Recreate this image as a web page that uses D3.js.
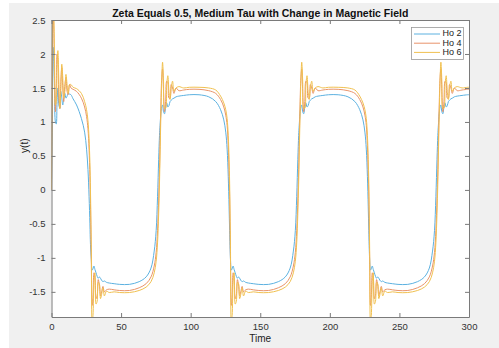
<!DOCTYPE html>
<html>
<head>
<meta charset="utf-8">
<script src="https://cdn.jsdelivr.net/npm/d3@7"></script>
<style>
  body { margin: 0; background: #ffffff; }
  svg { display: block; font-family: "Liberation Sans", Arial, sans-serif; }
</style>
</head>
<body>
<div id="chart"></div>
<script>
// time samples (dense around each switch)
var time = [
  0, 0.4, 0.8, 1.2, 1.7, 2.2, 2.8, 3.4, 4, 4.6, 5.3, 6, 6.7, 7.4, 8.1, 8.8, 9.6, 10.4, 11.2, 12, 13, 14, 15.5,
  18, 21.5, 23.8, 25.2, 26.2, 27, 27.6, 28, 28.6, 29.2, 29.8, 30.5, 31.2, 32, 32.8, 33.6, 34.4, 35.2, 36, 37, 38, 39.5, 41.5, 45, 49,
  56, 63, 68, 71.5, 73.8, 75.2, 76.2, 77, 77.6, 78, 78.6, 79.2, 79.8, 80.5, 81.2, 82, 82.8, 83.6, 84.4, 85.2, 86, 87, 88, 89.5, 91.5, 95, 99,
  106, 113, 118, 121.5, 123.8, 125.2, 126.2, 127, 127.6, 128, 128.6, 129.2, 129.8, 130.5, 131.2, 132, 132.8, 133.6, 134.4, 135.2, 136, 137, 138, 139.5, 141.5, 145, 149,
  156, 163, 168, 171.5, 173.8, 175.2, 176.2, 177, 177.6, 178, 178.6, 179.2, 179.8, 180.5, 181.2, 182, 182.8, 183.6, 184.4, 185.2, 186, 187, 188, 189.5, 191.5, 195, 199,
  206, 213, 218, 221.5, 223.8, 225.2, 226.2, 227, 227.6, 228, 228.6, 229.2, 229.8, 230.5, 231.2, 232, 232.8, 233.6, 234.4, 235.2, 236, 237, 238, 239.5, 241.5, 245, 249,
  256, 263, 268, 271.5, 273.8, 275.2, 276.2, 277, 277.6, 278, 278.6, 279.2, 279.8, 280.5, 281.2, 282, 282.8, 283.6, 284.4, 285.2, 286, 287, 288, 289.5, 291.5, 295, 299,
  300
];

var ho2 = [
  0, 0.9, 1.7, 2.1, 1.85, 1.4, 1.0, 0.97, 1.3, 1.5, 1.25, 1.2, 1.45, 1.35, 1.25, 1.35, 1.42, 1.35, 1.38, 1.42, 1.41, 1.4, 1.34,
  1.25, 1.05, 0.85, 0.6, 0.3, -0.1, -0.5, -0.8, -1.02, -1.18, -1.16, -1.12, -1.17, -1.22, -1.27, -1.3, -1.28, -1.3, -1.33, -1.35, -1.34, -1.36, -1.37, -1.38, -1.39,
  -1.39, -1.35, -1.28, -1.15, -0.9, -0.6, -0.1, 0.45, 0.8, 0.95, 1.12, 1.22, 1.25, 1.15, 1.12, 1.22, 1.28, 1.22, 1.24, 1.3, 1.32, 1.34, 1.35, 1.37, 1.38, 1.39, 1.4,
  1.4, 1.37, 1.3, 1.18, 1.03, 0.85, 0.6, 0.2, -0.25, -0.6, -1.02, -1.18, -1.16, -1.12, -1.17, -1.22, -1.27, -1.3, -1.28, -1.3, -1.33, -1.35, -1.34, -1.36, -1.37, -1.38, -1.39,
  -1.39, -1.35, -1.28, -1.15, -0.9, -0.6, -0.1, 0.45, 0.8, 0.95, 1.12, 1.22, 1.25, 1.15, 1.12, 1.22, 1.28, 1.22, 1.24, 1.3, 1.32, 1.34, 1.35, 1.37, 1.38, 1.39, 1.4,
  1.4, 1.37, 1.3, 1.18, 1.03, 0.85, 0.6, 0.2, -0.25, -0.6, -1.02, -1.18, -1.16, -1.12, -1.17, -1.22, -1.27, -1.3, -1.28, -1.3, -1.33, -1.35, -1.34, -1.36, -1.37, -1.38, -1.39,
  -1.39, -1.35, -1.28, -1.15, -0.9, -0.6, -0.1, 0.45, 0.8, 0.95, 1.12, 1.22, 1.25, 1.15, 1.12, 1.22, 1.28, 1.22, 1.24, 1.3, 1.32, 1.34, 1.35, 1.37, 1.38, 1.39, 1.4,
  1.4
];

var ho4 = [
  0, 1.4, 2.5, 2.65, 2.3, 1.6, 1.15, 1.5, 2.0, 1.9, 1.35, 1.2, 1.6, 1.8, 1.5, 1.3, 1.55, 1.65, 1.45, 1.4, 1.55, 1.5, 1.48,
  1.45, 1.35, 1.22, 1.08, 0.9, 0.6, 0.2, -0.2, -1.0, -1.7, -1.58, -1.22, -1.28, -1.6, -1.55, -1.32, -1.4, -1.56, -1.5, -1.42, -1.5, -1.47, -1.46, -1.47, -1.48,
  -1.48, -1.44, -1.38, -1.28, -1.12, -0.92, -0.6, -0.15, 0.3, 0.7, 1.25, 1.65, 1.78, 1.45, 1.15, 1.3, 1.6, 1.58, 1.35, 1.35, 1.55, 1.5, 1.42, 1.5, 1.46, 1.47, 1.48,
  1.48, 1.46, 1.42, 1.33, 1.22, 1.1, 0.95, 0.65, 0.25, -0.1, -1.0, -1.7, -1.58, -1.22, -1.28, -1.6, -1.55, -1.32, -1.4, -1.56, -1.5, -1.42, -1.5, -1.47, -1.46, -1.47, -1.48,
  -1.48, -1.44, -1.38, -1.28, -1.12, -0.92, -0.6, -0.15, 0.3, 0.7, 1.25, 1.65, 1.78, 1.45, 1.15, 1.3, 1.6, 1.58, 1.35, 1.35, 1.55, 1.5, 1.42, 1.5, 1.46, 1.47, 1.48,
  1.48, 1.46, 1.42, 1.33, 1.22, 1.1, 0.95, 0.65, 0.25, -0.1, -1.0, -1.7, -1.58, -1.22, -1.28, -1.6, -1.55, -1.32, -1.4, -1.56, -1.5, -1.42, -1.5, -1.47, -1.46, -1.47, -1.48,
  -1.48, -1.44, -1.38, -1.28, -1.12, -0.92, -0.6, -0.15, 0.3, 0.7, 1.25, 1.65, 1.78, 1.45, 1.15, 1.3, 1.6, 1.58, 1.35, 1.35, 1.55, 1.5, 1.42, 1.5, 1.46, 1.47, 1.48,
  1.48
];

var ho6 = [
  0, 1.2, 2.4, 2.75, 2.55, 1.9, 1.25, 1.3, 1.85, 2.05, 1.6, 1.2, 1.45, 1.85, 1.65, 1.35, 1.45, 1.7, 1.55, 1.42, 1.55, 1.55, 1.51,
  1.49, 1.42, 1.3, 1.18, 1.02, 0.75, 0.4, 0.0, -0.85, -1.95, -1.85, -1.35, -1.22, -1.68, -1.64, -1.36, -1.38, -1.6, -1.54, -1.44, -1.56, -1.49, -1.51, -1.5, -1.51,
  -1.51, -1.48, -1.43, -1.35, -1.22, -1.05, -0.78, -0.35, 0.1, 0.5, 1.1, 1.6, 1.88, 1.6, 1.2, 1.2, 1.55, 1.68, 1.45, 1.33, 1.5, 1.6, 1.45, 1.5, 1.52, 1.5, 1.51,
  1.51, 1.5, 1.47, 1.38, 1.28, 1.18, 1.05, 0.8, 0.45, 0.1, -0.85, -1.95, -1.85, -1.35, -1.22, -1.68, -1.64, -1.36, -1.38, -1.6, -1.54, -1.44, -1.56, -1.49, -1.51, -1.5, -1.51,
  -1.51, -1.48, -1.43, -1.35, -1.22, -1.05, -0.78, -0.35, 0.1, 0.5, 1.1, 1.6, 1.88, 1.6, 1.2, 1.2, 1.55, 1.68, 1.45, 1.33, 1.5, 1.6, 1.45, 1.5, 1.52, 1.5, 1.51,
  1.51, 1.5, 1.47, 1.38, 1.28, 1.18, 1.05, 0.8, 0.45, 0.1, -0.85, -1.95, -1.85, -1.35, -1.22, -1.68, -1.64, -1.36, -1.38, -1.6, -1.54, -1.44, -1.56, -1.49, -1.51, -1.5, -1.51,
  -1.51, -1.48, -1.43, -1.35, -1.22, -1.05, -0.78, -0.35, 0.1, 0.5, 1.1, 1.6, 1.88, 1.6, 1.2, 1.2, 1.55, 1.68, 1.45, 1.33, 1.5, 1.6, 1.45, 1.5, 1.52, 1.5, 1.51,
  1.51
];

var seriesNames = ["Ho 2", "Ho 4", "Ho 6"];
var seriesColors = ["#5cb1e0", "#e8936a", "#f0c050"];
var xTicks = [0, 50, 100, 150, 200, 250, 300];
var yTicks = [-1.5, -1, -0.5, 0, 0.5, 1, 1.5, 2, 2.5];

var W = 499, H = 348;
var mLeft = 51.5, mRight = 469, mTop = 20, mBottom = 317;

var svg = d3.select("#chart").append("svg")
  .attr("width", W).attr("height", H);

// grey figure background
svg.append("rect").attr("x", 9).attr("y", 3).attr("width", W - 9).attr("height", H - 3)
  .attr("fill", "#f0f0f0");
svg.append("rect").attr("x", mLeft).attr("y", mTop)
  .attr("width", mRight - mLeft).attr("height", mBottom - mTop).attr("fill", "#ffffff");

var x = d3.scaleLinear().domain([0, 300]).range([mLeft, mRight]);
var y = d3.scaleLinear().domain([-1.87, 2.5]).range([mBottom, mTop]);

svg.append("clipPath").attr("id", "clip")
  .append("rect").attr("x", mLeft).attr("y", mTop)
  .attr("width", mRight - mLeft).attr("height", mBottom - mTop);

var allSeries = [ho2, ho4, ho6];
var line = d3.line()
  .x(function(d) { return x(d[0]); })
  .y(function(d) { return y(d[1]); })
  .curve(d3.curveCatmullRom.alpha(0.5));

var plot = svg.append("g").attr("clip-path", "url(#clip)");
for (var s = 0; s < allSeries.length; s++) {
  var pts = time.map(function(t, i) { return [t, allSeries[s][i]]; });
  plot.append("path")
    .attr("d", line(pts))
    .attr("fill", "none")
    .attr("stroke", seriesColors[s])
    .attr("stroke-width", 1);
}

// axes, matlab style: ticks inward, box all round, plain number labels
var fmt = function(d) { return String(d); };
var axisColor = "#7a7a7a", textColor = "#333333";
var tk = 4;
var gx = svg.append("g").attr("transform", "translate(0," + mBottom + ")")
  .call(d3.axisBottom(x).tickValues(xTicks).tickSizeInner(-tk).tickSizeOuter(0).tickPadding(6).tickFormat(fmt));
var gxTop = svg.append("g").attr("transform", "translate(0," + mTop + ")")
  .call(d3.axisTop(x).tickValues(xTicks).tickSizeInner(-tk).tickSizeOuter(0).tickFormat(""));
var gy = svg.append("g").attr("transform", "translate(" + mLeft + ",0)")
  .call(d3.axisLeft(y).tickValues(yTicks).tickSizeInner(-tk).tickSizeOuter(0).tickPadding(6).tickFormat(fmt));
var gyRight = svg.append("g").attr("transform", "translate(" + mRight + ",0)")
  .call(d3.axisRight(y).tickValues(yTicks).tickSizeInner(-tk).tickSizeOuter(0).tickFormat(""));

[gx, gxTop, gy, gyRight].forEach(function(g) {
  g.selectAll(".domain").attr("stroke", axisColor);
  g.selectAll(".tick line").attr("stroke", axisColor);
  g.selectAll(".tick text").attr("fill", textColor).style("font-size", "9.5px");
});

svg.append("text").attr("x", (mLeft + mRight) / 2).attr("y", 14.5)
  .attr("text-anchor", "middle").attr("dominant-baseline", "middle")
  .style("font-size", "10.5px").style("font-weight", "bold").attr("fill", "#111")
  .text("Zeta Equals 0.5, Medium Tau with Change in Magnetic Field");

svg.append("text").attr("x", (mLeft + mRight) / 2).attr("y", 339)
  .attr("text-anchor", "middle").attr("dominant-baseline", "middle")
  .style("font-size", "10px").attr("fill", "#222").text("Time");

svg.append("text").attr("transform", "translate(25," + y(0.65) + ") rotate(-90)")
  .attr("text-anchor", "middle").attr("dominant-baseline", "middle")
  .style("font-size", "10px").attr("fill", "#222").text("y(t)");

// legend
var lg = svg.append("g");
lg.append("rect").attr("x", 411.5).attr("y", 27.5).attr("width", 52).attr("height", 32)
  .attr("fill", "#ffffff").attr("stroke", "#9a9a9a").attr("stroke-width", 0.8);
seriesNames.forEach(function(name, i) {
  var ly = 34 + i * 9.2;
  lg.append("line").attr("x1", 414).attr("x2", 440).attr("y1", ly).attr("y2", ly)
    .attr("stroke", seriesColors[i]).attr("stroke-width", 1);
  lg.append("text").attr("x", 442.5).attr("y", ly).attr("dominant-baseline", "middle")
    .style("font-size", "9px").attr("fill", "#222").text(name);
});
</script>
</body>
</html>
